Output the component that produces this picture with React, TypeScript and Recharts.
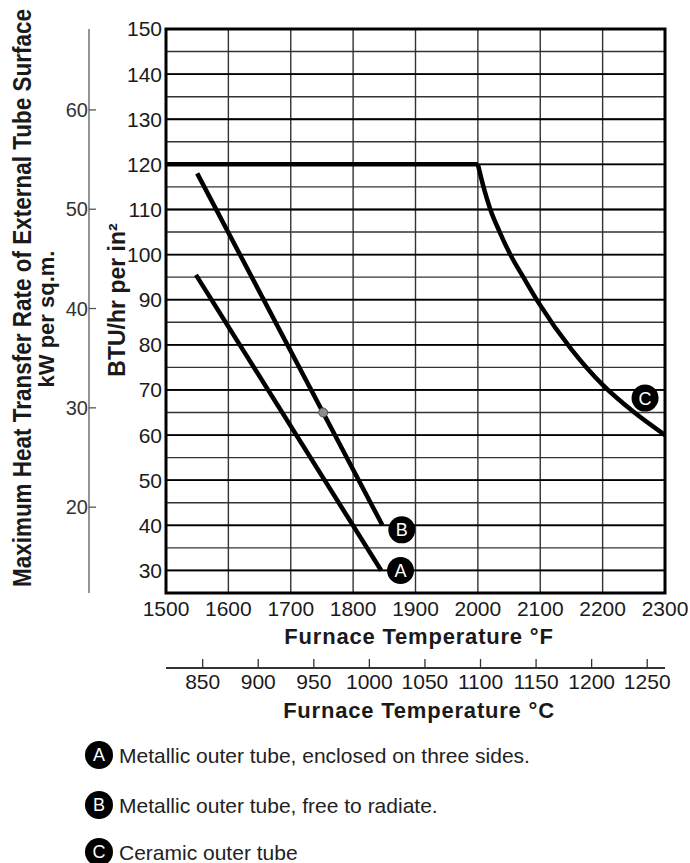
import React from "react";
import {
  LineChart,
  Line,
  XAxis,
  YAxis,
  CartesianGrid,
  ReferenceArea,
  ReferenceDot,
  ReferenceLine,
} from "recharts";

// BTU/hr per in² -> kW per sq.m.
const KW_PER_BTU = 0.4543;

const fTicks = [1500, 1600, 1700, 1800, 1900, 2000, 2100, 2200, 2300];
const cTicks = [850, 900, 950, 1000, 1050, 1100, 1150, 1200, 1250];
const btuTicks = [
  25, 30, 35, 40, 45, 50, 55, 60, 65, 70, 75, 80, 85, 90, 95, 100, 105, 110,
  115, 120, 125, 130, 135, 140, 145, 150,
];
const btuMajor = [30, 40, 50, 60, 70, 80, 90, 100, 110, 120, 130, 140];
const kwTicks = [20, 30, 40, 50, 60];

const curveA = [
  { f: 1548, v: 95.5 },
  { f: 1845, v: 30 },
];
const curveB = [
  { f: 1550, v: 118 },
  { f: 1847, v: 40 },
];
const plateau = [
  { f: 1500, v: 120 },
  { f: 2000, v: 120 },
];
const curveC = [
  { f: 2000, v: 120 },
  { f: 2010, v: 114.5 },
  { f: 2020, v: 110 },
  { f: 2035, v: 105 },
  { f: 2052, v: 100 },
  { f: 2075, v: 94.5 },
  { f: 2098, v: 89.2 },
  { f: 2150, v: 79 },
  { f: 2201, v: 71 },
  { f: 2249, v: 65.2 },
  { f: 2300, v: 60 },
];
const markerB = { f: 1752, v: 65 };
const badges = [
  { id: "A", f: 1876, v: 30 },
  { id: "B", f: 1878, v: 39 },
  { id: "C", f: 2268, v: 68.2 },
];
const legendItems = [
  { id: "A", text: "Metallic outer tube, enclosed on three sides." },
  { id: "B", text: "Metallic outer tube, free to radiate." },
  { id: "C", text: "Ceramic outer tube" },
];

// the °C scale only needs its tick values as x positions
const celsiusRows = cTicks.map((c) => ({ c }));

const FONT = "'Liberation Sans', Arial, sans-serif";

const KwTick = ({ x, y, payload }: any) => (
  <g>
    <line x1={x} x2={x + 7} y1={y} y2={y} stroke="#555" strokeWidth={1.3} />
    <text
      x={x - 1}
      y={y}
      dy="0.36em"
      textAnchor="end"
      fontSize={20}
      fontFamily={FONT}
      fill="#333"
    >
      {payload.value}
    </text>
  </g>
);

const CelsiusTick = ({ x, y, payload }: any) => {
  if (!cTicks.includes(payload.value)) return null;
  return (
    <g>
      <line x1={x} x2={x} y1={y} y2={y - 9} stroke="#333" strokeWidth={1.3} />
      <text
        x={x}
        y={y + 13}
        dy="0.36em"
        textAnchor="middle"
        fontSize={21}
        fontFamily={FONT}
        fill="#1a1a1a"
      >
        {payload.value}
      </text>
    </g>
  );
};

const Badge = ({ cx, cy, id }: any) => (
  <g>
    <circle cx={cx} cy={cy} r={13.5} fill="#000" />
    <text
      x={cx}
      y={cy}
      dy="0.36em"
      textAnchor="middle"
      fontSize={18}
      fontFamily={FONT}
      fill="#fff"
    >
      {id}
    </text>
  </g>
);

export default function App() {
  return (
    <div
      style={{
        position: "absolute",
        left: 0,
        top: 0,
        width: 690,
        height: 863,
        background: "#fff",
        fontFamily: FONT,
      }}
    >
      <LineChart
        width={690}
        height={730}
        margin={{ top: 29, right: 25, bottom: 0, left: 0 }}
      >
        <CartesianGrid xAxisId="x1" yAxisId="y1" stroke="#333" strokeWidth={1.4} />
        <XAxis
          xAxisId="x1"
          type="number"
          dataKey="f"
          domain={[1500, 2300]}
          ticks={fTicks}
          interval={0}
          height={75}
          axisLine={false}
          tickLine={false}
          tickSize={0}
          tickMargin={8}
          tick={{ fontSize: 21, fill: "#1a1a1a", fontFamily: FONT }}
        />
        <XAxis
          xAxisId="x2"
          type="number"
          dataKey="c"
          domain={[817, 1266]}
          allowDataOverflow
          ticks={cTicks}
          interval={0}
          height={62}
          axisLine={{ stroke: "#333", strokeWidth: 2 }}
          tickLine={false}
          tickSize={0}
          tickMargin={0}
          tick={<CelsiusTick />}
        />
        <YAxis
          yAxisId="y1"
          type="number"
          domain={[25, 150]}
          ticks={btuTicks}
          interval={0}
          width={77}
          axisLine={false}
          tickLine={false}
          tickSize={0}
          tickMargin={4}
          tickFormatter={(v: number) => (v % 10 === 0 && v >= 30 ? String(v) : "")}
          tick={{ fontSize: 21, fill: "#1a1a1a", fontFamily: FONT }}
        />
        <YAxis
          yAxisId="y2"
          type="number"
          domain={[25 * KW_PER_BTU, 150 * KW_PER_BTU]}
          allowDataOverflow
          ticks={kwTicks}
          interval={0}
          width={89}
          axisLine={{ stroke: "#7a7a7a", strokeWidth: 1.6 }}
          tickLine={false}
          tickSize={0}
          tickMargin={0}
          tick={<KwTick />}
        />
        {btuMajor.map((v) => (
          <ReferenceLine
            key={v}
            xAxisId="x1"
            yAxisId="y1"
            y={v}
            stroke="#000"
            strokeWidth={1.8}
          />
        ))}
        <ReferenceArea
          xAxisId="x1"
          yAxisId="y1"
          x1={1500}
          x2={2300}
          y1={25}
          y2={150}
          fill="none"
          stroke="#000"
          strokeWidth={3}
        />
        {/* invisible series that ties the °C axis to its tick values */}
        <Line
          xAxisId="x2"
          yAxisId="y1"
          data={celsiusRows}
          dataKey="missing"
          stroke="none"
          dot={false}
          legendType="none"
          isAnimationActive={false}
        />
        <Line
          xAxisId="x1"
          yAxisId="y1"
          data={plateau}
          dataKey="v"
          type="linear"
          stroke="#000"
          strokeWidth={4.5}
          dot={false}
          isAnimationActive={false}
        />
        <Line
          xAxisId="x1"
          yAxisId="y1"
          data={curveC}
          dataKey="v"
          type="monotone"
          stroke="#000"
          strokeWidth={4.5}
          dot={false}
          isAnimationActive={false}
        />
        <Line
          xAxisId="x1"
          yAxisId="y1"
          data={curveB}
          dataKey="v"
          type="linear"
          stroke="#000"
          strokeWidth={4.5}
          dot={false}
          isAnimationActive={false}
        />
        <Line
          xAxisId="x1"
          yAxisId="y1"
          data={curveA}
          dataKey="v"
          type="linear"
          stroke="#000"
          strokeWidth={4.5}
          dot={false}
          isAnimationActive={false}
        />
        <ReferenceDot
          xAxisId="x1"
          yAxisId="y1"
          x={markerB.f}
          y={markerB.v}
          r={4.5}
          fill="#8c8c8c"
          stroke="#555"
          strokeWidth={1}
        />
        {badges.map((b) => (
          <ReferenceDot
            key={b.id}
            xAxisId="x1"
            yAxisId="y1"
            x={b.f}
            y={b.v}
            r={13.5}
            shape={(p: any) => <Badge cx={p.cx} cy={p.cy} id={b.id} />}
          />
        ))}
      </LineChart>

      <svg
        width={690}
        height={863}
        style={{ position: "absolute", left: 0, top: 0, pointerEvents: "none" }}
      >
        <g fontFamily={FONT} fontWeight="bold" fill="#1a1a1a">
          <text
            transform="translate(31,298) rotate(-90) scale(1,1.12)"
            textAnchor="middle"
            fontSize={22.5}
          >
            Maximum Heat Transfer Rate of External Tube Surface
          </text>
          <text transform="translate(54,319) rotate(-90)" textAnchor="middle" fontSize={22}>
            kW per sq.m.
          </text>
          <text transform="translate(125,300) rotate(-90)" textAnchor="middle" fontSize={23}>
            BTU/hr per in²
          </text>
          <text x={419} y={644} textAnchor="middle" fontSize={22} letterSpacing={0.8}>
            Furnace Temperature °F
          </text>
          <text x={419} y={718} textAnchor="middle" fontSize={22} letterSpacing={0.8}>
            Furnace Temperature °C
          </text>
        </g>
        {legendItems.map((item, i) => {
          const cy = [755, 805, 852][i];
          return (
            <g key={item.id} fontFamily={FONT}>
              <circle cx={99} cy={cy} r={14} fill="#000" />
              <text x={99} y={cy} dy="0.36em" textAnchor="middle" fontSize={18} fill="#fff">
                {item.id}
              </text>
              <text x={119} y={cy} dy="0.36em" fontSize={21} fill="#222">
                {item.text}
              </text>
            </g>
          );
        })}
      </svg>
    </div>
  );
}
